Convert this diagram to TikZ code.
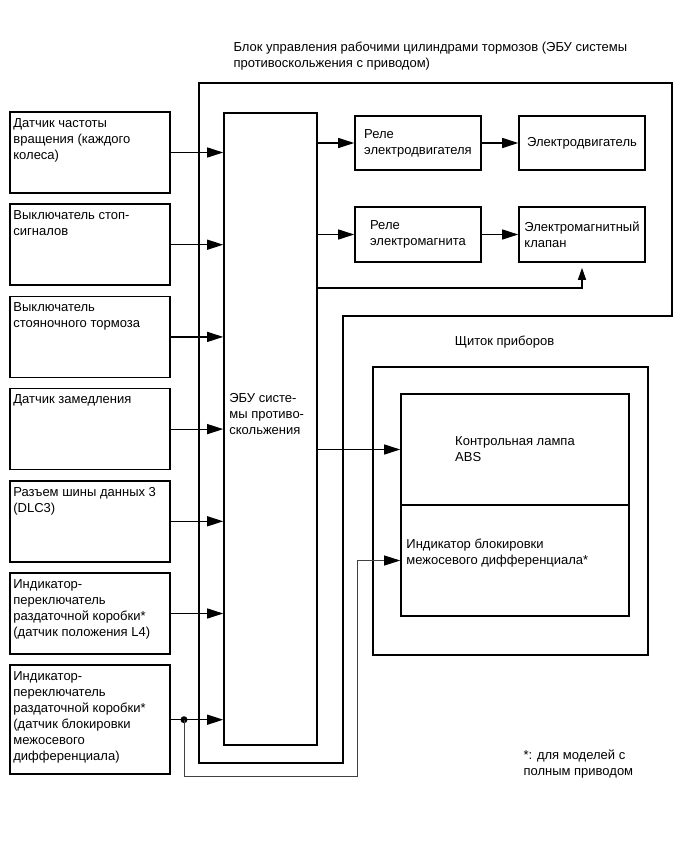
\documentclass[tikz,border=0pt]{standalone}
\usepackage{fontspec}
\setmainfont{Liberation Sans}
\usetikzlibrary{arrows.meta, positioning}
\tikzset{
  sensor/.style={rectangle, draw=black, line width=1.6pt,
    minimum width=160pt, minimum height=81pt, inner sep=0pt},
  stxt/.style={anchor=north west, align=left, inner sep=0pt,
    xshift=4pt, yshift=-7pt, font=\fontsize{13}{16}\selectfont},
  ecubox/.style={rectangle, draw=black, line width=1.6pt,
    minimum width=93pt, minimum height=632pt, inner sep=0pt},
  relay/.style={rectangle, draw=black, line width=1.6pt,
    minimum width=126pt, minimum height=54pt,
    align=left, font=\fontsize{13}{16}\selectfont},
  lamp/.style={rectangle, draw=black, line width=1.6pt,
    minimum width=228pt, minimum height=111pt,
    align=left, font=\fontsize{13}{16}\selectfont},
  panel/.style={rectangle, draw=black, line width=1.8pt,
    minimum width=275pt, minimum height=288pt},
  plain/.style={align=left, font=\fontsize{13}{16}\selectfont},
  frame/.style={line width=1.8pt, line join=miter},
  arr/.style={-{Triangle[length=16pt, width=10pt, color=black]}, line width=1.2pt},
  uparr/.style={-{Triangle[length=12pt, width=8pt]}, line width=1.1pt},
  wire/.style={line width=1pt, draw=black!75},
  junct/.style={circle, fill=black, inner sep=0pt, minimum size=7pt},
}

\begin{document}
\begin{tikzpicture}[x=1pt, y=-1pt]
\useasboundingbox (0,0) rectangle (690,854);

% Title
\node (title) [plain, anchor=west] at (230,56)
  {Блок управления рабочими цилиндрами тормозов (ЭБУ системы\\
   противоскольжения с приводом)};

% Actuator unit outline
\draw[frame] (199,83) -| (672,316) -| (343,763) -| (199,83) -- cycle;

% Sensors
\node (s1) [sensor, label={[stxt]north west:{Датчик частоты\\вращения (каждого\\колеса)}}]
  at (90,152.5) {};
\node (s2) [sensor, below=9.6pt of s1,
  label={[stxt]north west:{Выключатель стоп-\\сигналов}}] {};
\node (s3) [sensor, below=9.6pt of s2,
  label={[stxt]north west:{Выключатель\\стояночного тормоза}}] {};
\node (s4) [sensor, below=9.6pt of s3,
  label={[stxt]north west:{Датчик замедления}}] {};
\node (s5) [sensor, below=9.6pt of s4,
  label={[stxt]north west:{Разъем шины данных 3\\(DLC3)}}] {};
\node (s6) [sensor, below=9.6pt of s5,
  label={[stxt]north west:{Индикатор-\\переключатель\\раздаточной коробки*\\(датчик положения L4)}}] {};
\node (s7) [sensor, minimum height=109pt, below=9.6pt of s6,
  label={[stxt]north west:{Индикатор-\\переключатель\\раздаточной коробки*\\(датчик блокировки\\межосевого\\дифференциала)}}] {};

% ECU
\node (ecu) [ecubox] at (270.5,429) {};
\node (ecutxt) [plain, anchor=west, inner sep=0pt] at ([xshift=6pt, yshift=15pt]ecu.west)
  {ЭБУ систе-\\мы противо-\\скольжения};

% Relays and actuators
\node (rl1) [relay] at (418,143) {Реле\\электродвигателя};
\node (mot) [relay] at (582,143) {Электродвигатель};
\node (rl2) [relay, minimum height=55pt] at (418,234.5) {Реле\\электромагнита};
\node (vlv) [relay, minimum height=55pt] at (582,234.5) {Электромагнитный\\клапан};

% Combination meter
\node (cluster) [panel] at (510.5,511) {};
\node (clttl) [plain, above=14pt of cluster, xshift=-6pt] {Щиток приборов};
\node (abs) [lamp] at (515,449.5) {Контрольная лампа\\ABS};
\node (diff) [lamp, label={[stxt, xshift=2pt, yshift=-28pt]north west:{Индикатор блокировки\\межосевого дифференциала*}}]
  at (515,560.5) {};

% Footnote
\node (note) [plain, anchor=west] at (520,764)
  {*: для моделей с\\полным приводом};

% Sensor inputs
\foreach \s in {s1,s2,s3,s4,s5,s6,s7}
  \draw[arr] (\s.east) -- (\s.east -| ecu.west);

% Outputs
\coordinate (vtap) at (0,288);
\draw[arr] (ecu.east |- rl1.west) -- (rl1.west);
\draw[arr] (rl1) -- (mot);
\draw[arr] (ecu.east |- rl2.west) -- (rl2.west);
\draw[arr] (rl2) -- (vlv);
\draw[uparr, shorten >=5pt] (ecu.east |- vtap) -| (vlv.south);
\draw[arr] (ecu.east |- abs.west) -- (abs.west);

% Center diff lock signal
\coordinate (jx) at (184,0);
\coordinate (rb) at (357,776);
\node (jn) [junct] at (jx |- s7.east) {};
\draw[wire, arr, line width=1pt] (jn.center) |- (rb) |- (diff.west);

\end{tikzpicture}
\end{document}
